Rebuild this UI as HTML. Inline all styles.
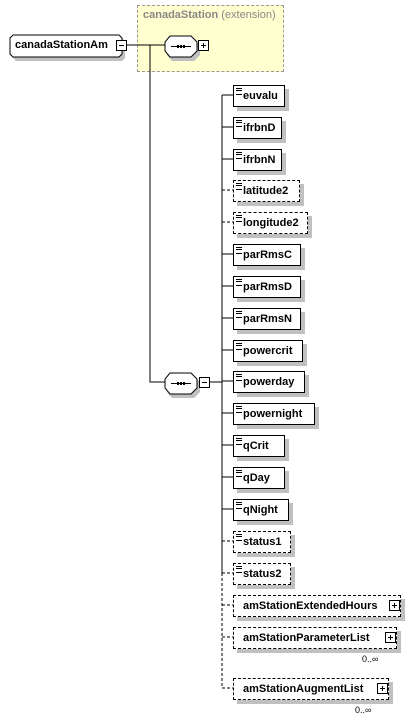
<!DOCTYPE html>
<html><head><style>
body{margin:0;width:411px;height:723px;background:#fff;position:relative;overflow:hidden;font-family:"Liberation Sans",Arial,sans-serif;}
.e{position:absolute;height:20px;border:1px solid #000;background:#fff;box-shadow:4px 4px 0 #c0c0c0;font-weight:bold;font-size:11px;line-height:21px;padding-left:9px;box-sizing:content-box;}
.d{border-style:dashed;}
.e i{position:absolute;left:2px;top:2px;width:6px;height:5px;border-top:1px solid #000;border-bottom:1px solid #000;}
.e i:after{content:"";position:absolute;left:0;top:1px;width:6px;height:1px;background:#000;}
.pl{position:absolute;width:9px;height:9px;border:1px solid #000;background:#fff;}
.pl:before{content:"";position:absolute;left:2px;top:4px;width:5px;height:1px;background:#000;}
.pl.p:after{content:"";position:absolute;left:4px;top:2px;width:1px;height:5px;background:#000;}
.m{position:absolute;font-size:9px;}
</style></head><body>
<div style="position:absolute;left:137px;top:5px;width:145px;height:65px;border:1px dashed #999;background:#ffffd0;"></div>
<div style="position:absolute;left:143px;top:9px;font-size:11px;color:#888;"><b>canadaStation</b> (extension)</div>
<svg style="position:absolute;left:0;top:0" width="411" height="723">
<g stroke="#000" fill="none">
<path d="M127 45H166M150 45V382H166"/>
<path d="M210 382H222M222 95V573M222 95H234M222 127H234M222 159H234M222 254H234M222 286H234M222 318H234M222 350H234M222 381H234M222 413H234M222 445H234M222 477H234M222 509H234"/>
<path d="M222 573V688M222 190H234M222 222H234M222 541H234M222 573H234M222 605H234M222 637H234M222 688H234" stroke-dasharray="3,2"/>
</g>
<g>
<polygon points="172,39 194,39 200,45 200,55 194,61 172,61 167,55 167,45" fill="#c0c0c0"/>
<polygon points="170,36 191,36 197,42 197,51 191,57 170,57 165,51 165,42" fill="#fff" stroke="#000"/>
<path d="M171 46.5H191" stroke="#000"/><rect x="177" y="45" width="2" height="3" fill="#000"/><rect x="180" y="45" width="2" height="3" fill="#000"/><rect x="183" y="45" width="2" height="3" fill="#000"/>
<polygon points="172,376 194,376 200,382 200,392 194,398 172,398 167,392 167,382" fill="#c0c0c0"/>
<polygon points="170,373 191,373 197,379 197,388 191,394 170,394 165,388 165,379" fill="#fff" stroke="#000"/>
<path d="M171 383.5H191" stroke="#000"/><rect x="177" y="382" width="2" height="3" fill="#000"/><rect x="180" y="382" width="2" height="3" fill="#000"/><rect x="183" y="382" width="2" height="3" fill="#000"/>
<polygon points="16,38 122,38 125,41 125,58 122,61 16,61 13,58 13,41" fill="#c0c0c0"/>
<polygon points="13,35 119,35 122,38 122,54 119,57 13,57 10,54 10,38" fill="#fff" stroke="#000"/>
</g>
</svg>
<div style="position:absolute;left:15px;top:39px;font-weight:bold;font-size:11px;">canadaStationAm</div>
<div class="pl" style="left:116px;top:40px"></div>
<div class="pl p" style="left:198px;top:40px"></div>
<div class="pl" style="left:199px;top:377px"></div>

<div class="e" style="left:233px;top:85px;width:41px"><i></i>euvalu</div>
<div class="e" style="left:233px;top:117px;width:38px"><i></i>ifrbnD</div>
<div class="e" style="left:233px;top:149px;width:38px"><i></i>ifrbnN</div>
<div class="e d" style="left:233px;top:180px;width:56px"><i></i>latitude2</div>
<div class="e d" style="left:233px;top:212px;width:64px"><i></i>longitude2</div>
<div class="e" style="left:233px;top:244px;width:57px"><i></i>parRmsC</div>
<div class="e" style="left:233px;top:276px;width:57px"><i></i>parRmsD</div>
<div class="e" style="left:233px;top:308px;width:57px"><i></i>parRmsN</div>
<div class="e" style="left:233px;top:340px;width:59px"><i></i>powercrit</div>
<div class="e" style="left:233px;top:371px;width:61px"><i></i>powerday</div>
<div class="e" style="left:233px;top:403px;width:71px"><i></i>powernight</div>
<div class="e" style="left:233px;top:435px;width:41px"><i></i>qCrit</div>
<div class="e" style="left:233px;top:467px;width:41px"><i></i>qDay</div>
<div class="e" style="left:233px;top:499px;width:45px"><i></i>qNight</div>
<div class="e d" style="left:233px;top:531px;width:47px"><i></i>status1</div>
<div class="e d" style="left:233px;top:563px;width:47px"><i></i>status2</div>
<div class="e d" style="left:233px;top:595px;width:157px">amStationExtendedHours</div>
<div class="pl p" style="left:389px;top:600px"></div>
<div class="e d" style="left:233px;top:627px;width:153px">amStationParameterList</div>
<div class="pl p" style="left:385px;top:632px"></div>
<div class="m" style="left:362px;top:654px">0..∞</div>
<div class="e d" style="left:233px;top:678px;width:145px">amStationAugmentList</div>
<div class="pl p" style="left:377px;top:683px"></div>
<div class="m" style="left:355px;top:705px">0..∞</div>
</body></html>
